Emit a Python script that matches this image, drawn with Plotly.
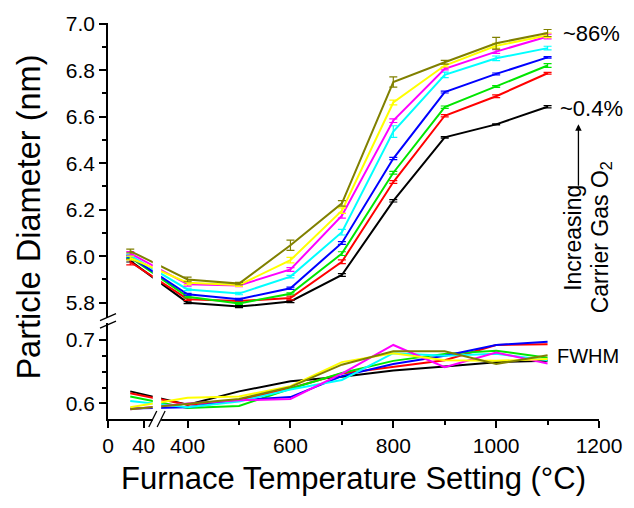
import plotly.graph_objects as go

# ---------------- data ----------------
temps = [25, 400, 500, 600, 700, 800, 900, 1000, 1100]
colors = ["#000000", "#FF0000", "#00E600", "#0000FF", "#00FFFF", "#FF00FF", "#FFFF00", "#808000"]

diam_black = [5.980, 5.800, 5.783, 5.805, 5.919, 6.238, 6.511, 6.567, 6.643]
diam_red = [5.975, 5.815, 5.807, 5.820, 5.976, 6.319, 6.604, 6.688, 6.787]
diam_green = [5.995, 5.825, 5.797, 5.838, 6.011, 6.359, 6.641, 6.730, 6.820]
diam_blue = [5.998, 5.836, 5.815, 5.862, 6.057, 6.420, 6.706, 6.784, 6.855]
diam_cyan = [6.003, 5.857, 5.839, 5.912, 6.103, 6.536, 6.780, 6.851, 6.895]
diam_magenta = [6.012, 5.879, 5.874, 5.943, 6.174, 6.583, 6.806, 6.880, 6.945]
diam_yellow = [5.992, 5.886, 5.876, 5.983, 6.196, 6.661, 6.820, 6.905, 6.950]
diam_olive = [6.022, 5.900, 5.882, 6.047, 6.227, 6.749, 6.834, 6.916, 6.960]

err_black = [0.005, 0.004, 0.004, 0.005, 0.006, 0.005, 0.003, 0.002, 0.005]
err_red = [0.012, 0.005, 0.004, 0.008, 0.008, 0.006, 0.005, 0.006, 0.004]
err_green = [0.005, 0.004, 0.004, 0.004, 0.008, 0.006, 0.005, 0.004, 0.008]
err_blue = [0.004, 0.004, 0.004, 0.005, 0.006, 0.005, 0.004, 0.004, 0.003]
err_cyan = [0.005, 0.005, 0.005, 0.005, 0.012, 0.025, 0.012, 0.010, 0.008]
err_magenta = [0.008, 0.008, 0.005, 0.008, 0.010, 0.008, 0.005, 0.008, 0.010]
err_yellow = [0.008, 0.008, 0.006, 0.012, 0.012, 0.010, 0.006, 0.010, 0.010]
err_olive = [0.008, 0.010, 0.005, 0.022, 0.012, 0.022, 0.008, 0.025, 0.015]

fwhm_black = [0.619, 0.598, 0.619, 0.635, 0.642, 0.652, 0.658, 0.665, 0.667]
fwhm_red = [0.616, 0.598, 0.605, 0.624, 0.647, 0.657, 0.668, 0.692, 0.693]
fwhm_green = [0.611, 0.593, 0.596, 0.623, 0.648, 0.667, 0.678, 0.683, 0.672]
fwhm_blue = [0.592, 0.594, 0.605, 0.610, 0.643, 0.662, 0.675, 0.692, 0.697]
fwhm_cyan = [0.604, 0.594, 0.603, 0.622, 0.637, 0.679, 0.675, 0.678, 0.668]
fwhm_magenta = [0.591, 0.600, 0.605, 0.607, 0.647, 0.692, 0.657, 0.680, 0.663]
fwhm_yellow = [0.594, 0.609, 0.611, 0.627, 0.665, 0.679, 0.668, 0.667, 0.670]
fwhm_olive = [0.591, 0.600, 0.607, 0.626, 0.661, 0.682, 0.682, 0.662, 0.676]

x_tick_values = [0, 40, 400, 600, 800, 1000, 1200]
x_tick_labels = ["0", "40", "400", "600", "800", "1000", "1200"]
x_minor_values = [500, 700, 900, 1100]

diams = [diam_black, diam_red, diam_green, diam_blue, diam_cyan, diam_magenta, diam_yellow, diam_olive]
errs = [err_black, err_red, err_green, err_blue, err_cyan, err_magenta, err_yellow, err_olive]
fwhms = [fwhm_black, fwhm_red, fwhm_green, fwhm_blue, fwhm_cyan, fwhm_magenta, fwhm_yellow, fwhm_olive]

# ---------------- broken x-axis mapping ----------------
# left segment (0..~50 C) is stretched relative to the right segment (>=350 C)
LEFT_OFFSET = 245.2
LEFT_RATIO = 1.731


def bx(t):
    return t if t >= 300 else LEFT_OFFSET + LEFT_RATIO * t


GAP_LO = 332.3
GAP_HI = 348.5

FONT = "Liberation Sans, Arial, sans-serif"

fig = go.Figure()
xs = [bx(t) for t in temps]

for d, e, c in zip(diams, errs, colors):
    fig.add_trace(go.Scatter(
        x=xs, y=d, mode="lines", xaxis="x", yaxis="y",
        line=dict(color=c, width=2),
        error_y=dict(type="data", array=e, visible=True, color=c, thickness=1.2, width=4),
        showlegend=False, hoverinfo="skip"))

for f, c in zip(fwhms, colors):
    fig.add_trace(go.Scatter(
        x=xs, y=f, mode="lines", xaxis="x", yaxis="y2",
        line=dict(color=c, width=2),
        showlegend=False, hoverinfo="skip"))

axis_common = dict(showline=True, linecolor="black", linewidth=1.5, ticks="outside",
                   ticklen=7, tickwidth=1.5, tickcolor="black", showgrid=False,
                   zeroline=False, tickfont=dict(family=FONT, size=21, color="black"))

fig.update_layout(
    width=634, height=508,
    margin=dict(l=108, r=30, t=20, b=89),
    paper_bgcolor="white", plot_bgcolor="white",
    xaxis=dict(domain=[0, 1], anchor="y2", range=[LEFT_OFFSET, 1200],
               tickmode="array", tickvals=[bx(v) for v in x_tick_values], ticktext=x_tick_labels,
               minor=dict(tickmode="array", tickvals=x_minor_values, ticks="outside",
                          ticklen=4, tickwidth=1.5, tickcolor="black", showgrid=False),
               title=dict(text="Furnace Temperature Setting (\u00b0C)",
                          font=dict(family=FONT, size=31, color="black"), standoff=11),
               **axis_common),
    yaxis=dict(domain=[0.2556, 1], anchor="x", range=[5.735, 7.003],
               tickmode="array", tickvals=[5.8, 6.0, 6.2, 6.4, 6.6, 6.8, 7.0], tickformat=".1f",
               minor=dict(tickmode="array", tickvals=[5.9, 6.1, 6.3, 6.5, 6.7, 6.9], ticks="outside",
                          ticklen=4, tickwidth=1.5, tickcolor="black", showgrid=False),
               **axis_common),
    yaxis2=dict(domain=[0, 0.2431], anchor="x", range=[0.5755, 0.727],
                tickmode="array", tickvals=[0.6, 0.7], tickformat=".1f",
                minor=dict(tickmode="array", tickvals=[0.625, 0.65, 0.675], ticks="outside",
                           ticklen=4, tickwidth=1.5, tickcolor="black", showgrid=False),
                **axis_common),
)

# y-axis title spanning both panels
fig.add_annotation(text="Particle Diameter (nm)", xref="paper", yref="paper",
                   x=-0.161, y=0.511, xanchor="center", yanchor="middle",
                   textangle=-90, showarrow=False,
                   font=dict(family=FONT, size=32.5, color="black"))

# gap in the x-axis break
fig.add_shape(type="rect", xref="x", yref="paper", x0=GAP_LO, x1=GAP_HI, y0=-0.012, y1=1.01,
              fillcolor="white", line=dict(width=0), layer="above")
for xc in (GAP_LO, GAP_HI):
    fig.add_shape(type="line", xref="x", xsizemode="pixel", xanchor=xc, x0=-4, x1=4,
                  yref="paper", ysizemode="pixel", yanchor=0, y0=-8, y1=8,
                  line=dict(color="black", width=1.3), layer="above")
# y-axis break marks
for ya in (0.2574, 0.2381):
    fig.add_shape(type="line", xref="paper", xsizemode="pixel", xanchor=0, x0=-8, x1=8,
                  yref="paper", ysizemode="pixel", yanchor=ya, y0=-3.5, y1=3.5,
                  line=dict(color="black", width=1.3), layer="above")

# labels
fig.add_annotation(text="~86%", x=1126, y=6.96, xref="x", yref="y", xanchor="left",
                   yanchor="middle", showarrow=False, font=dict(family=FONT, size=22, color="black"))
fig.add_annotation(text="~0.4%", x=1120, y=6.636, xref="x", yref="y", xanchor="left",
                   yanchor="middle", showarrow=False, font=dict(family=FONT, size=22, color="black"))
fig.add_annotation(text="FWHM", x=1114, y=0.6745, xref="x", yref="y2", xanchor="left",
                   yanchor="middle", showarrow=False, font=dict(family=FONT, size=20, color="black"))
fig.add_annotation(text="Increasing", xref="paper", yref="y",
                   x=0.948, y=6.081, xanchor="center", yanchor="middle",
                   textangle=-90, showarrow=False,
                   font=dict(family=FONT, size=23, color="black"))
fig.add_annotation(text="Carrier Gas O<sub>2</sub>", xref="paper", yref="y",
                   x=1.004, y=6.081, xanchor="center", yanchor="middle",
                   textangle=-90, showarrow=False,
                   font=dict(family=FONT, size=23, color="black"))
fig.add_annotation(text="", x=1160, y=6.567, xref="x", yref="y", showarrow=True,
                   ax=0, ay=63, arrowhead=2, arrowsize=1, arrowwidth=1.3, arrowcolor="black",
                   standoff=0)

fig.write_html("out.html")
